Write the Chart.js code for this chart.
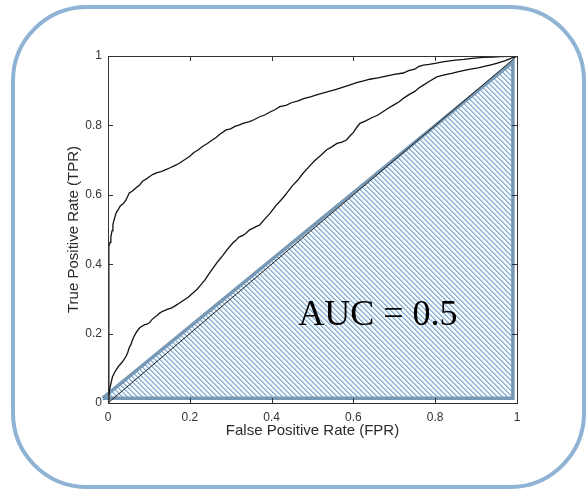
<!DOCTYPE html>
<html>
<head>
<meta charset="utf-8">
<script src="https://cdn.jsdelivr.net/npm/chart.js@4"></script>
<style>
  body { margin: 0; background: #fff; }
  #wrap { position: relative; width: 587px; height: 490px; }
  #frame {
    position: absolute; left: 11px; top: 5px; width: 575px; height: 484px;
    box-sizing: border-box; border: 4px solid #8fb3d4; border-radius: 76px;
    pointer-events: none;
  }
  canvas { position: absolute; left: 0; top: 0; }
</style>
</head>
<body>
<div id="wrap">
  <canvas id="roc" width="587" height="490"></canvas>
  <div id="frame"></div>
</div>
<script>
// strong classifier
const upperFpr = [0, 0.002, 0.002, 0.003, 0.005, 0.007, 0.010, 0.012, 0.016, 0.020, 0.025, 0.030, 0.037, 0.044, 0.052, 0.060, 0.070, 0.078, 0.085, 0.093, 0.101, 0.110, 0.120, 0.130, 0.140, 0.152, 0.167, 0.178, 0.190, 0.200, 0.210, 0.220, 0.231, 0.243, 0.255, 0.265, 0.275, 0.289, 0.300, 0.310, 0.320, 0.330, 0.346, 0.358, 0.371, 0.383, 0.395, 0.408, 0.420, 0.435, 0.450, 0.465, 0.480, 0.495, 0.510, 0.525, 0.540, 0.558, 0.575, 0.590, 0.608, 0.625, 0.640, 0.660, 0.680, 0.700, 0.722, 0.735, 0.750, 0.760, 0.771, 0.785, 0.800, 0.818, 0.836, 0.850, 0.870, 0.890, 0.917, 0.940, 0.960, 0.980, 1];
const upperTpr = [0, 0.354, 0.450, 0.455, 0.463, 0.479, 0.497, 0.515, 0.532, 0.548, 0.557, 0.568, 0.574, 0.585, 0.605, 0.611, 0.622, 0.629, 0.640, 0.645, 0.652, 0.659, 0.664, 0.667, 0.672, 0.678, 0.686, 0.694, 0.703, 0.711, 0.722, 0.729, 0.739, 0.748, 0.758, 0.766, 0.776, 0.787, 0.790, 0.797, 0.801, 0.806, 0.811, 0.817, 0.825, 0.830, 0.838, 0.845, 0.854, 0.858, 0.866, 0.871, 0.878, 0.882, 0.888, 0.893, 0.898, 0.904, 0.910, 0.916, 0.923, 0.928, 0.933, 0.937, 0.942, 0.947, 0.951, 0.958, 0.962, 0.970, 0.974, 0.976, 0.979, 0.983, 0.986, 0.988, 0.990, 0.993, 0.996, 0.997, 0.998, 0.999, 1];

// weaker classifier
const lowerFpr = [0, 0.004, 0.008, 0.011, 0.018, 0.025, 0.035, 0.044, 0.048, 0.052, 0.056, 0.060, 0.065, 0.070, 0.077, 0.083, 0.090, 0.095, 0.101, 0.108, 0.115, 0.120, 0.126, 0.135, 0.145, 0.156, 0.167, 0.175, 0.185, 0.196, 0.207, 0.218, 0.228, 0.238, 0.248, 0.259, 0.270, 0.280, 0.290, 0.305, 0.312, 0.320, 0.330, 0.338, 0.346, 0.355, 0.363, 0.371, 0.383, 0.395, 0.410, 0.427, 0.438, 0.450, 0.463, 0.477, 0.490, 0.505, 0.520, 0.534, 0.547, 0.560, 0.572, 0.583, 0.592, 0.600, 0.608, 0.616, 0.630, 0.645, 0.660, 0.673, 0.686, 0.700, 0.712, 0.722, 0.735, 0.750, 0.760, 0.771, 0.787, 0.804, 0.820, 0.840, 0.860, 0.877, 0.890, 0.905, 0.920, 0.934, 0.950, 0.970, 0.985, 1];
const lowerTpr = [0, 0.040, 0.060, 0.076, 0.092, 0.105, 0.118, 0.134, 0.145, 0.160, 0.168, 0.182, 0.195, 0.205, 0.216, 0.221, 0.226, 0.227, 0.231, 0.241, 0.248, 0.252, 0.259, 0.265, 0.270, 0.274, 0.282, 0.288, 0.296, 0.305, 0.316, 0.328, 0.342, 0.356, 0.374, 0.392, 0.410, 0.424, 0.440, 0.461, 0.468, 0.478, 0.483, 0.490, 0.499, 0.504, 0.509, 0.513, 0.530, 0.545, 0.568, 0.590, 0.606, 0.625, 0.641, 0.662, 0.679, 0.698, 0.713, 0.729, 0.738, 0.748, 0.752, 0.758, 0.770, 0.780, 0.794, 0.806, 0.813, 0.822, 0.830, 0.840, 0.850, 0.860, 0.868, 0.878, 0.888, 0.898, 0.908, 0.916, 0.928, 0.940, 0.945, 0.950, 0.956, 0.960, 0.963, 0.966, 0.970, 0.974, 0.979, 0.986, 0.993, 1];

// chance line and the shaded area under it
const chanceFpr = [0, 1];
const chanceTpr = [0, 1];
const areaFpr = [-0.013, 0.99, 0.99, -0.013];
const areaTpr = [0.014, 0.983, 0.014, 0.014];

const xTickLabels = ['0', '0.2', '0.4', '0.6', '0.8', '1'];
const yTickLabels = ['0', '0.2', '0.4', '0.6', '0.8', '1'];
const aucLabel = 'AUC = 0.5';

const pts = (xs, ys) => xs.map((x, i) => ({ x: x, y: ys[i] }));

// crisp diagonal stripes, pixel by pixel
function stripes() {
  const c = document.createElement('canvas');
  const p = 5;
  c.width = p; c.height = p;
  const g = c.getContext('2d');
  const img = g.createImageData(p, p);
  for (let j = 0; j < p; j++) {
    for (let i = 0; i < p; i++) {
      const k = ((i - j) % p + p) % p;
      const o = (j * p + i) * 4;
      let col = [255, 255, 255];
      if (k === 0) col = [136, 176, 212];
      else if (k === 1) col = [164, 196, 224];
      else if (k === 2) col = [232, 241, 249];
      img.data[o] = col[0]; img.data[o + 1] = col[1]; img.data[o + 2] = col[2]; img.data[o + 3] = 255;
    }
  }
  g.putImageData(img, 0, 0);
  return g.createPattern(c, 'repeat');
}

const tickFont = { family: 'Liberation Sans', size: 12 };
const titleFont = { family: 'Liberation Sans', size: 15 };

const boxPlugin = {
  id: 'box',
  afterDatasetsDraw(chart) {
    const { ctx, scales } = chart;
    ctx.save();
    ctx.font = '36px "Liberation Serif"';
    ctx.fillStyle = '#000';
    ctx.textBaseline = 'alphabetic';
    ctx.fillText(aucLabel, scales.x.getPixelForValue(0.465), scales.y.getPixelForValue(0.225));
    ctx.restore();
  },
  afterDraw(chart) {
    const { ctx, chartArea: a, scales } = chart;
    ctx.save();
    ctx.strokeStyle = '#333';
    ctx.lineWidth = 1;
    ctx.strokeRect(a.left + 0.5, a.top + 0.5, a.right - a.left, a.bottom - a.top);
    ctx.beginPath();
    scales.x.ticks.forEach(t => {
      const px = Math.round(scales.x.getPixelForValue(t.value)) + 0.5;
      ctx.moveTo(px, a.bottom); ctx.lineTo(px, a.bottom - 5);
      ctx.moveTo(px, a.top); ctx.lineTo(px, a.top + 5);
    });
    scales.y.ticks.forEach(t => {
      const py = Math.round(scales.y.getPixelForValue(t.value)) + 0.5;
      ctx.moveTo(a.left, py); ctx.lineTo(a.left + 5, py);
      ctx.moveTo(a.right, py); ctx.lineTo(a.right - 5, py);
    });
    ctx.stroke();
    ctx.restore();
  }
};

new Chart(document.getElementById('roc').getContext('2d'), {
  type: 'line',
  data: {
    datasets: [
      { data: pts(upperFpr, upperTpr), borderColor: '#111', borderWidth: 1.3, pointRadius: 0, fill: false },
      { data: pts(lowerFpr, lowerTpr), borderColor: '#111', borderWidth: 1.3, pointRadius: 0, fill: false },
      { data: pts(chanceFpr, chanceTpr), borderColor: '#222', borderWidth: 1, pointRadius: 0, fill: false },
      { data: pts(areaFpr, areaTpr), borderColor: '#7899b5', borderWidth: 3.5, pointRadius: 0,
        backgroundColor: stripes(), fill: 'shape', clip: false, borderJoinStyle: 'miter' }
    ]
  },
  options: {
    responsive: false,
    animation: false,
    layout: { padding: { top: 56, right: 70, left: 0, bottom: 0 } },
    plugins: { legend: { display: false }, tooltip: { enabled: false } },
    scales: {
      x: {
        type: 'linear', min: 0, max: 1,
        afterFit: s => { s.height = 87; },
        grid: { display: false, drawTicks: false },
        border: { display: false },
        ticks: { stepSize: 0.2, padding: 7, color: '#333', font: tickFont, maxRotation: 0,
          callback: (v) => xTickLabels[Math.round(v * 5)] },
        title: { display: true, text: 'False Positive Rate (FPR)', color: '#2b2b2b', font: titleFont,
          padding: { top: 0, bottom: 50 } }
      },
      y: {
        type: 'linear', min: 0, max: 1,
        afterFit: s => { s.width = 108; },
        grid: { display: false, drawTicks: false },
        border: { display: false },
        ticks: { stepSize: 0.2, padding: 6, color: '#333', font: tickFont,
          callback: (v) => yTickLabels[Math.round(v * 5)] },
        title: { display: true, text: 'True Positive Rate (TPR)', color: '#2b2b2b', font: titleFont,
          padding: { top: 65, bottom: 0 } }
      }
    }
  },
  plugins: [boxPlugin]
});
</script>
</body>
</html>
